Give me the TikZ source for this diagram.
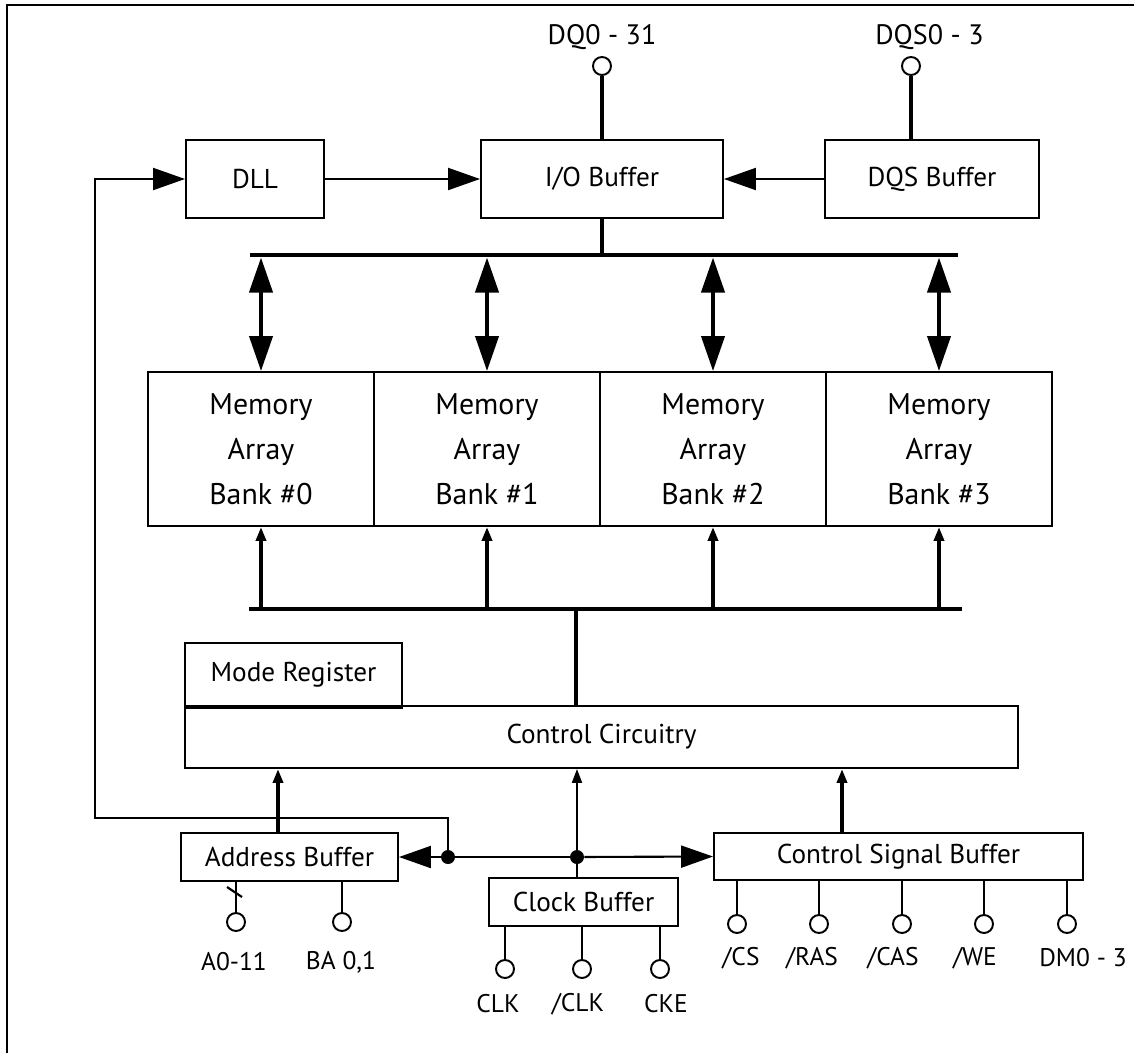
\documentclass[tikz,border=0pt]{standalone}
\usepackage{fontspec}
\setmainfont{PT Sans}
\usetikzlibrary{positioning, arrows.meta, calc}

\begin{document}
\begin{tikzpicture}[x=1cm, y=-1cm,
    bloco/.style={draw, line width=1.1pt, inner sep=0pt, font=\fontsize{15.5}{18}\selectfont},
    pino/.style={draw, circle, line width=1.1pt, minimum size=0.36cm, inner sep=0pt},
    rotulo/.style={inner sep=0pt, font=\fontsize{14.5}{17}\selectfont},
    juncao/.style={circle, fill, inner sep=0pt, minimum size=0.28cm},
    fio/.style={line width=1.2pt},
    grosso/.style={line width=2.3pt},
    barramento/.style={line width=2.8pt},
    setagrande/.style={-{Triangle[length=0.64cm, width=0.44cm]}},
    setadupla/.style={{Triangle[length=0.70cm, width=0.46cm]}-{Triangle[length=0.70cm, width=0.46cm]}},
    setapequena/.style={-{Triangle[length=0.28cm, width=0.20cm]}}]
    \useasboundingbox (0,0) rectangle (22.68,21.06);
    % Moldura
    \draw[fio] (0.14,21.06) -- (0.14,0.10) -- (22.68,0.10);
    % Blocos de cima
    \node[bloco, minimum width=2.76cm, minimum height=1.56cm] (dll) at (5.10,3.58) {DLL};
    \node[bloco, minimum width=4.84cm, minimum height=1.56cm] (io) at (12.04,3.58) {I/O Buffer};
    \node[bloco, minimum width=4.28cm, minimum height=1.56cm] (dqs) at (18.64,3.58) {DQS Buffer};
    \draw[fio, setagrande] (dll) -- (io);
    \draw[fio, setagrande] (dqs) -- (io);
    % Pinos de dados
    \node[pino] (dqpin) at (12.04,1.32) {};
    \node[rotulo, font=\fontsize{16}{18}\selectfont] (dqlbl) at (12.04,0.74) {DQ0 - 31};
    \draw[grosso] (dqpin) -- (io.north);
    \node[pino] (dqspin) at (18.22,1.32) {};
    \node[rotulo, anchor=west, font=\fontsize{16}{18}\selectfont] (dqslbl) at (17.50,0.74) {DQS0 - 3};
    \draw[grosso] (dqspin) -- (dqspin |- dqs.north);
    % Barramento de cima
    \coordinate (ub1) at (5.00,5.10);
    \coordinate (ub2) at (19.16,5.10);
    \draw[barramento] (ub1) -- (ub2);
    \draw[grosso] (io.south) -- (io.south |- ub1);
    % Bancos de memoria
    \foreach \i/\cx in {0/5.22, 1/9.74, 2/14.26, 3/18.78}{
      \node[bloco, minimum width=4.52cm, minimum height=3.08cm, align=center,
            font=\fontsize{17}{25.6}\selectfont] (bank\i) at (\cx,8.98)
            {Memory\\Array\\Bank \#\i};
      \draw[grosso, setadupla, shorten <=0.05cm] (bank\i.north |- ub1) -- (bank\i.north);
    }
    % Barramento de baixo
    \coordinate (lb1) at (4.98,12.18);
    \coordinate (lb2) at (19.24,12.18);
    \coordinate (lbtap) at (11.52,12.18);
    \draw[barramento] (lb1) -- (lb2);
    \foreach \i in {0,...,3}
      \draw[grosso, setapequena] (bank\i.south |- lb1) -- (bank\i.south);
    % Controle
    \node[bloco, minimum width=4.34cm, minimum height=1.26cm] (mode) at (5.87,13.49) {Mode Register};
    \node[bloco, minimum width=16.66cm, minimum height=1.24cm] (ctrl) at (12.03,14.74) {Control Circuitry};
    \draw[line width=2pt] (mode.south west) -- (mode.south east);
    \draw[barramento] (lbtap) -- (lbtap |- ctrl.north);
    % Buffers de entrada
    \node[bloco, minimum width=4.34cm, minimum height=0.96cm] (addr) at (5.79,17.14) {Address Buffer};
    \node[bloco, minimum width=3.78cm, minimum height=0.96cm] (clk) at (11.67,18.04) {Clock Buffer};
    \node[bloco, minimum width=7.38cm, minimum height=0.94cm] (csb) at (17.97,17.13) {Control Signal Buffer};
    \draw[grosso, setapequena] ($(addr.north)+(-0.23,0)$) -- ($(addr.north |- ctrl.south)+(-0.23,0)$);
    \draw[grosso, setapequena] ($(csb.north)+(-1.13,0)$) -- ($(csb.north |- ctrl.south)+(-1.13,0)$);
    % Sinal de clock
    \node[juncao] (j1) at (8.96,17.14) {};
    \node[juncao] (j2) at (11.54,17.14) {};
    \coordinate (fb) at (1.90,16.36);
    \draw[fio, setagrande] (j1) -- (addr.east);
    \draw[fio] (j1) -- (j2);
    \draw[fio, setagrande] (j2) -- (csb.west);
    \draw[fio, setapequena] (j2) -- (j2 |- ctrl.south);
    \draw[fio] (j2) -- (j2 |- clk.north);
    \draw[fio, setagrande] (j1) |- (fb) -- (fb |- dll.west) -- (dll.west);
    % Pinos de entrada
    \foreach \n/\x/\lx/\t in {a/4.72/4.68/A0-11, b/6.84/6.82/{BA 0,1}}{
      \node[pino] (pin\n) at (\x,18.44) {};
      \node[rotulo] (lbl\n) at (\lx,19.24) {\t};
      \draw[fio] (pin\n) -- (pin\n |- addr.south);
    }
    \draw[fio] (4.54,17.74) -- (4.84,17.94);
    \foreach \n/\x/\lx/\t in {c1/10.10/9.96/CLK, c2/11.64/11.56/{/CLK}, c3/13.20/13.32/CKE}{
      \node[pino] (pin\n) at (\x,19.38) {};
      \node[rotulo] (lbl\n) at (\lx,20.08) {\t};
      \draw[fio] (pin\n) -- (pin\n |- clk.south);
    }
    \foreach \n/\x/\lx/\t in {s1/14.74/14.82/{/CS}, s2/16.38/16.24/{/RAS}, s3/18.04/17.86/{/CAS},
                             s4/19.68/19.50/{/WE}, s5/21.34/21.66/{DM0 - 3}}{
      \node[pino] (pin\n) at (\x,18.48) {};
      \node[rotulo] (lbl\n) at (\lx,19.16) {\t};
      \draw[fio] (pin\n) -- (pin\n |- csb.south);
    }
\end{tikzpicture}
\end{document}
